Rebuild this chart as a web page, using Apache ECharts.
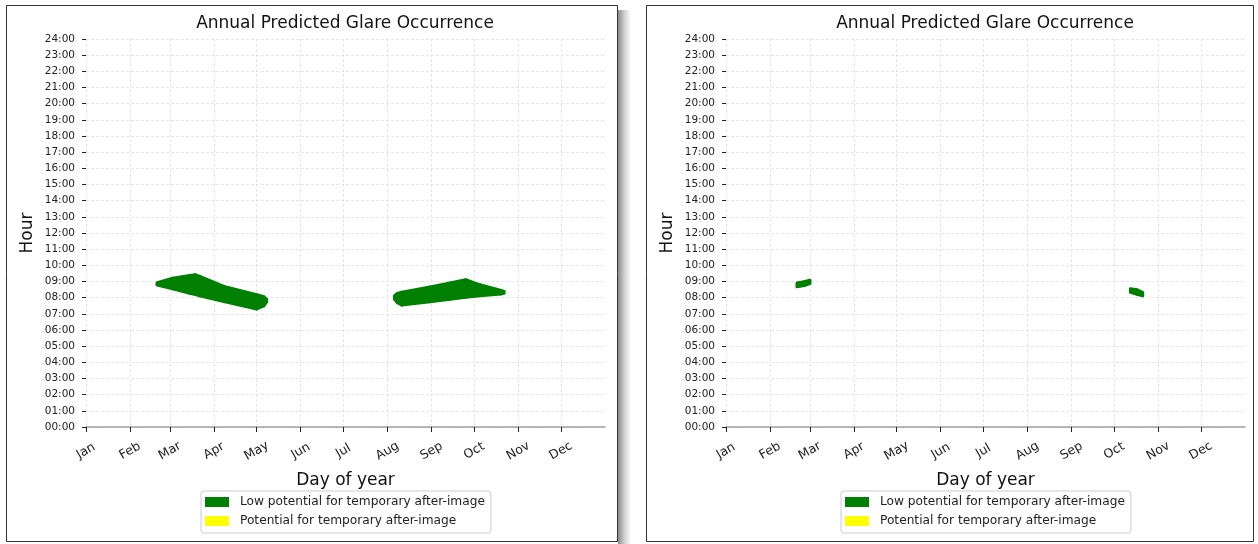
<!DOCTYPE html>
<html>
<head>
<meta charset="utf-8">
<script src="https://cdn.jsdelivr.net/npm/echarts@6/dist/echarts.min.js"></script>
<style>
  html, body { margin: 0; padding: 0; background: #ffffff; }
  #chart { width: 1258px; height: 544px; }
</style>
</head>
<body>
<div id="chart"></div>
<script>
// ---- Axis data ----
const monthLabels = ['Jan', 'Feb', 'Mar', 'Apr', 'May', 'Jun', 'Jul', 'Aug', 'Sep', 'Oct', 'Nov', 'Dec'];
const monthStartDays = [0, 31, 59, 90, 120, 151, 181, 212, 243, 273, 304, 334];
const hourTickValues = [0, 1, 2, 3, 4, 5, 6, 7, 8, 9, 10, 11, 12, 13, 14, 15, 16, 17, 18, 19, 20, 21, 22, 23, 24];

const titleText = 'Annual Predicted Glare Occurrence';
const xName = 'Day of year';
const yName = 'Hour';
const lowName = 'Low potential for temporary after-image';
const potName = 'Potential for temporary after-image';

// ---- Panel 1: low potential glare (day of year, lower / upper hour boundary) ----
const p1SpringDays = [50, 61, 73, 77, 80, 97, 120, 125, 127];
const p1SpringLow  = [8.78, 8.55, 8.28, 8.20, 8.12, 7.76, 7.31, 7.50, 7.75];
const p1SpringHigh = [8.92, 9.20, 9.37, 9.41, 9.31, 8.69, 8.17, 8.05, 7.90];

const p1AutumnDays = [217, 219, 222, 242, 256, 267, 277, 292, 294];
const p1AutumnLow  = [7.90, 7.70, 7.55, 7.76, 7.90, 8.03, 8.12, 8.24, 8.28];
const p1AutumnHigh = [8.12, 8.25, 8.33, 8.65, 8.90, 9.10, 8.79, 8.44, 8.38];

// ---- Panel 2: low potential glare ----
const p2SpringDays = [50, 55, 59];
const p2SpringLow  = [8.68, 8.76, 8.88];
const p2SpringHigh = [8.90, 8.98, 9.08];

const p2AutumnDays = [284.5, 289, 293];
const p2AutumnLow  = [8.33, 8.22, 8.12];
const p2AutumnHigh = [8.55, 8.48, 8.32];

// ---- Panel 1/2: potential for after-image (none) ----
const p1PotentialDays = [];
const p2PotentialDays = [];

function bands(days, lo, hi) {
  const out = [];
  for (let i = 0; i < days.length - 1; i++) {
    out.push([days[i], lo[i], hi[i], days[i + 1], lo[i + 1], hi[i + 1]]);
  }
  return out;
}

function bandRender(color) {
  return function (params, api) {
    const a = api.coord([api.value(0), api.value(1)]);
    const b = api.coord([api.value(3), api.value(4)]);
    const c = api.coord([api.value(3), api.value(5)]);
    const d = api.coord([api.value(0), api.value(2)]);
    return {
      type: 'polygon',
      shape: { points: [a, b, c, d] },
      style: { fill: color, stroke: color, lineWidth: 3.2, lineJoin: 'round' }
    };
  };
}

const GREEN = '#008000';
const YELLOW = '#ffff00';
const FONT = 'DejaVu Sans';

const panelOffsets = [0, 640];

function makeGrid(off) {
  return { left: 86 + off, width: 519, top: 39, height: 388, containLabel: false };
}

function makeXAxis(i) {
  return {
    type: 'value', gridIndex: i, min: 0, max: 365,
    name: xName, nameLocation: 'middle', nameGap: 45,
    nameTextStyle: { fontFamily: FONT, fontSize: 17, color: '#111' },
    axisLine: { show: true, lineStyle: { color: '#a0a0a0', width: 1.5 } },
    axisTick: { show: true, length: 5, customValues: monthStartDays, lineStyle: { color: '#222', width: 1 } },
    axisLabel: {
      customValues: monthStartDays,
      formatter: function (v) { return monthLabels[monthStartDays.indexOf(v)]; },
      rotate: 30, align: 'center', verticalAlign: 'middle', margin: 24,
      fontFamily: FONT, fontSize: 12.5, color: '#222'
    },
    splitLine: { show: true, lineStyle: { color: '#dedede', type: [3, 2], width: 0.8 } }
  };
}

function makeYAxis(i) {
  return {
    type: 'value', gridIndex: i, min: 0, max: 24, interval: 1,
    name: yName, nameLocation: 'middle', nameGap: 50, nameRotate: 90,
    nameTextStyle: { fontFamily: FONT, fontSize: 17, color: '#111' },
    axisLine: { show: false },
    axisTick: { show: true, length: 4, lineStyle: { color: '#222', width: 1 } },
    axisLabel: {
      formatter: function (v) { return (v < 10 ? '0' : '') + v + ':00'; },
      margin: 11, fontFamily: FONT, fontSize: 10.5, color: '#222'
    },
    splitLine: { show: true, lineStyle: { color: '#dedede', type: [3, 2], width: 0.8 } }
  };
}

function makeTitle(off) {
  return {
    text: titleText, left: 345 + off, top: 15, textAlign: 'center', padding: 0,
    textStyle: { fontFamily: FONT, fontSize: 17, fontWeight: 'normal', color: '#111' }
  };
}

function makeLegend(off) {
  return {
    data: [lowName, potName], orient: 'vertical', left: 201 + off, top: 491,
    icon: 'rect', itemWidth: 24, itemHeight: 10, itemGap: 7,
    padding: [5, 6, 6, 4], borderColor: '#cccccc', borderWidth: 1, borderRadius: 3,
    backgroundColor: '#ffffff',
    textStyle: { fontFamily: FONT, fontSize: 12.2, color: '#222', padding: [0, 0, 0, 6] },
    selectedMode: false
  };
}

function lowSeries(i, data) {
  return {
    type: 'custom', name: lowName, xAxisIndex: i, yAxisIndex: i,
    itemStyle: { color: GREEN }, renderItem: bandRender(GREEN),
    encode: { x: [0, 3], y: [1, 2, 4, 5] }, data: data, silent: true
  };
}

function potSeries(i, days) {
  return {
    type: 'custom', name: potName, xAxisIndex: i, yAxisIndex: i,
    itemStyle: { color: YELLOW }, renderItem: bandRender(YELLOW),
    data: days, silent: true
  };
}

const option = {
  backgroundColor: '#ffffff',
  animation: false,
  title: panelOffsets.map(makeTitle),
  legend: panelOffsets.map(makeLegend),
  grid: panelOffsets.map(makeGrid),
  xAxis: [makeXAxis(0), makeXAxis(1)],
  yAxis: [makeYAxis(0), makeYAxis(1)],
  graphic: [
    { type: 'rect', shape: { x: 618, y: 10, width: 13, height: 534 }, silent: true, z: -10,
      style: { fill: new echarts.graphic.LinearGradient(0, 0, 1, 0, [
        { offset: 0, color: 'rgba(0,0,0,0.45)' },
        { offset: 0.5, color: 'rgba(0,0,0,0.18)' },
        { offset: 1, color: 'rgba(0,0,0,0)' }]) } },
    { type: 'rect', shape: { x: 6.5, y: 5.5, width: 611, height: 536 }, silent: true, z: -5,
      style: { fill: '#ffffff', stroke: '#333333', lineWidth: 1 } },
    { type: 'rect', shape: { x: 646.5, y: 5.5, width: 607, height: 536 }, silent: true, z: -5,
      style: { fill: '#ffffff', stroke: '#333333', lineWidth: 1 } }
  ],
  series: [
    lowSeries(0, bands(p1SpringDays, p1SpringLow, p1SpringHigh).concat(bands(p1AutumnDays, p1AutumnLow, p1AutumnHigh))),
    potSeries(0, p1PotentialDays),
    lowSeries(1, bands(p2SpringDays, p2SpringLow, p2SpringHigh).concat(bands(p2AutumnDays, p2AutumnLow, p2AutumnHigh))),
    potSeries(1, p2PotentialDays)
  ]
};

const chart = echarts.init(document.getElementById('chart'), null, { renderer: 'canvas' });
chart.setOption(option);
</script>
</body>
</html>
